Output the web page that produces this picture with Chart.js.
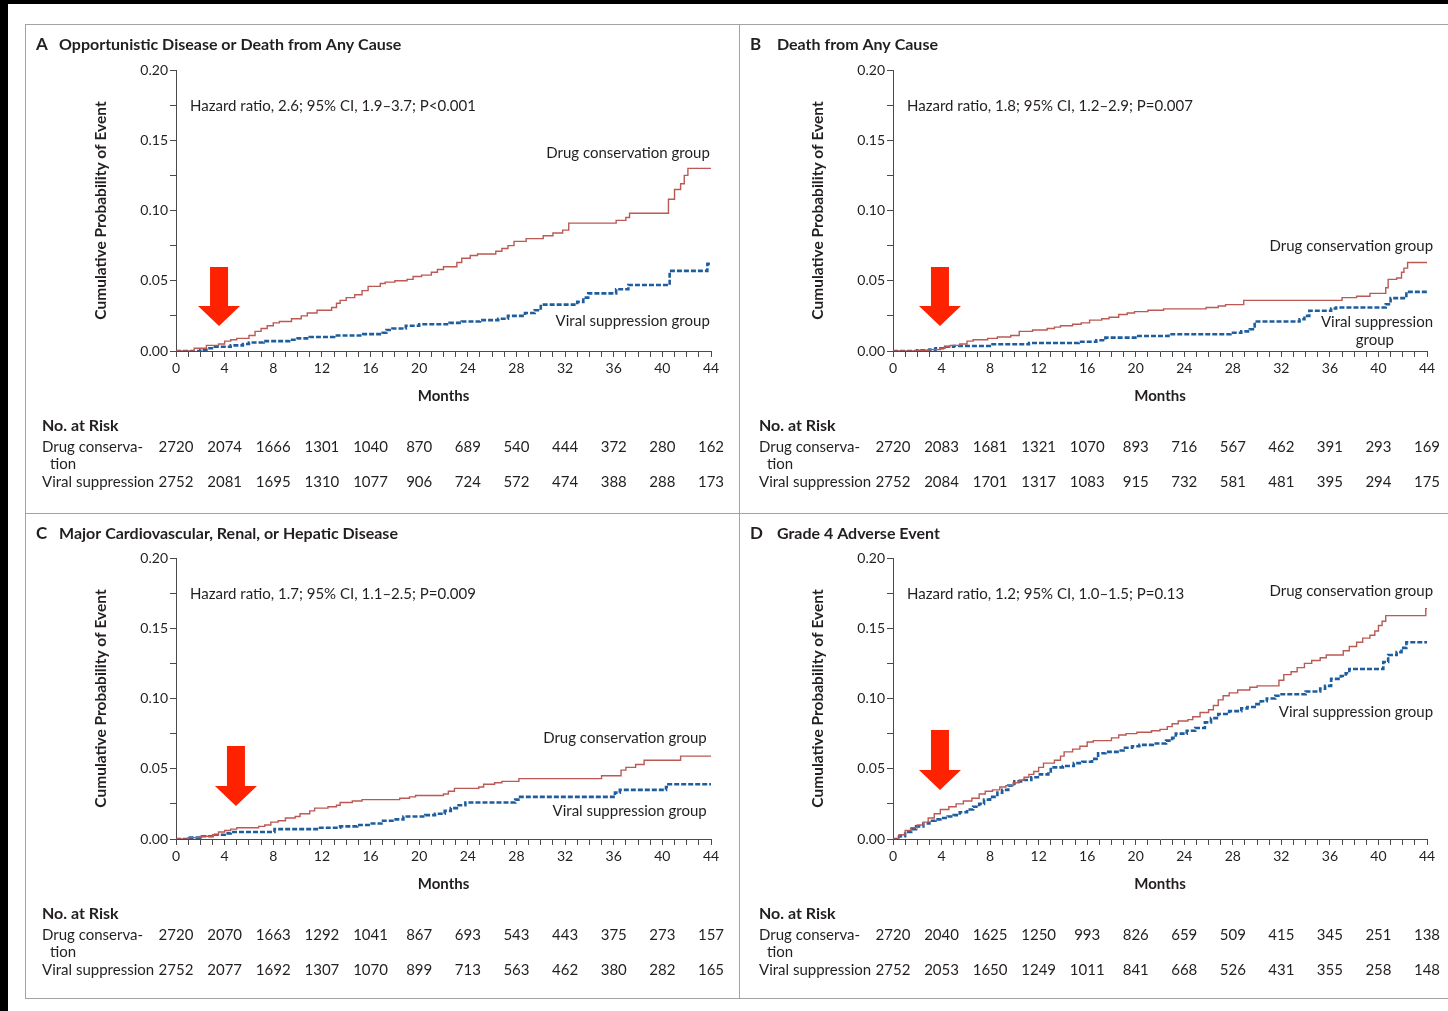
<!DOCTYPE html>
<html>
<head>
<meta charset="utf-8">
<script src="https://cdn.jsdelivr.net/npm/chart.js@4.4.1/dist/chart.umd.min.js"></script>
<style>
  body { margin: 0; background: #fff; width: 1448px; height: 1011px; overflow: hidden; position: relative; font-family: Lato, sans-serif; }
  .bar { position: absolute; background: #000; }
  .frame { position: absolute; border: 1px solid #a3a3a3; box-sizing: border-box; }
  canvas { position: absolute; }
</style>
</head>
<body>
<div class="bar" style="left:0;top:0;width:1448px;height:4px"></div>
<div class="bar" style="left:0;top:0;width:8px;height:1011px"></div>
<div class="frame" style="left:25px;top:24px;width:1440px;height:975px"></div>
<div class="frame" style="left:739px;top:24px;width:1px;height:975px;border-width:0 0 0 1px"></div>
<div class="frame" style="left:25px;top:513px;width:1440px;height:1px;border-width:1px 0 0 0"></div>

<canvas id="pA" style="left:25px;top:24px" width="714" height="489"></canvas>
<canvas id="pB" style="left:739px;top:24px" width="709" height="489"></canvas>
<canvas id="pC" style="left:25px;top:513px" width="714" height="485"></canvas>
<canvas id="pD" style="left:739px;top:513px" width="709" height="485"></canvas>

<script>
// [month, cumulative probability] steps
const aDrug = [[0,0],[1.5,0.002],[2.5,0.004],[3.5,0.005],[4,0.007],[4.5,0.008],[5,0.009],[6,0.011],[6.5,0.014],[7,0.016],[7.5,0.018],[8,0.020],[8.5,0.021],[9.5,0.023],[10.3,0.025],[10.8,0.027],[11.6,0.029],[12.8,0.031],[13.2,0.034],[13.5,0.036],[14,0.038],[14.7,0.040],[15.3,0.043],[15.8,0.046],[16.8,0.048],[17.2,0.049],[18,0.050],[19,0.051],[19.5,0.053],[20.2,0.054],[21,0.056],[21.5,0.058],[22,0.060],[23.1,0.063],[23.5,0.066],[24.2,0.068],[24.8,0.069],[26.3,0.071],[26.8,0.073],[27.3,0.075],[27.8,0.078],[28.8,0.080],[30.2,0.082],[31,0.084],[31.8,0.086],[32.3,0.091],[36.2,0.093],[37,0.095],[37.3,0.098],[40.5,0.108],[41,0.115],[41.5,0.119],[41.8,0.125],[42.1,0.130],[44,0.130]]
const aViral = [[0,0],[2,0.001],[2.5,0.002],[3.2,0.003],[4.5,0.004],[5.5,0.005],[6,0.006],[7.2,0.007],[9.3,0.008],[10,0.009],[11,0.010],[13,0.011],[15.4,0.012],[17,0.013],[17.3,0.015],[17.8,0.016],[18.9,0.018],[20,0.019],[22.5,0.020],[23.5,0.021],[25,0.022],[26.5,0.023],[27.3,0.025],[28.7,0.027],[29.5,0.029],[30,0.033],[33,0.035],[33.5,0.038],[33.9,0.041],[36.2,0.044],[37.2,0.047],[40.6,0.057],[43.7,0.062],[44,0.062]]

const bDrug = [[0,0],[2,0.0005],[3,0.001],[3.9,0.002],[4.3,0.003],[4.7,0.004],[5.5,0.005],[6.1,0.007],[6.6,0.008],[7.8,0.009],[8.6,0.010],[9.7,0.011],[10.4,0.014],[11.5,0.015],[12.7,0.016],[13.3,0.017],[13.8,0.018],[14.8,0.019],[15.5,0.020],[16.2,0.022],[17.2,0.023],[17.8,0.024],[18.6,0.026],[19.3,0.027],[19.9,0.028],[21,0.029],[22.3,0.030],[25.8,0.031],[26.8,0.032],[27.4,0.033],[28.9,0.036],[37,0.038],[38.2,0.039],[39.3,0.041],[40.6,0.045],[40.8,0.051],[41.5,0.052],[41.9,0.056],[42.1,0.059],[42.4,0.063],[44,0.063]]
const bViral = [[0,0],[2,0.0005],[3,0.001],[3.5,0.002],[4.3,0.003],[5,0.0036],[8.2,0.0048],[11.2,0.0057],[15.3,0.0066],[16.75,0.0076],[17.5,0.0095],[20.1,0.0107],[22.7,0.0119],[27.8,0.013],[28.7,0.014],[29.4,0.0155],[29.8,0.021],[33.5,0.0226],[33.9,0.025],[34.3,0.0286],[36.1,0.0302],[36.5,0.031],[40.6,0.0333],[41,0.0376],[42.3,0.0421],[44,0.0421]]

const cDrug = [[0,0],[1,0.001],[2,0.002],[3,0.003],[3.5,0.005],[4,0.006],[4.5,0.007],[5,0.008],[6.8,0.009],[7.3,0.010],[7.8,0.012],[8.4,0.013],[9,0.015],[9.8,0.016],[10.2,0.018],[11,0.020],[11.4,0.022],[12.5,0.023],[13.2,0.024],[13.5,0.026],[14.5,0.027],[15.3,0.028],[18.4,0.029],[19.2,0.030],[19.7,0.031],[22,0.032],[22.4,0.034],[22.9,0.036],[24.9,0.037],[25.3,0.039],[26.2,0.040],[26.8,0.041],[28.2,0.043],[35,0.045],[36.6,0.049],[37,0.051],[37.8,0.053],[38.5,0.056],[41.5,0.059],[44,0.059]]
const cViral = [[0,0],[1,0.001],[2,0.002],[3,0.003],[4,0.004],[4.5,0.005],[8.1,0.007],[11.7,0.008],[13.5,0.009],[14.9,0.010],[16.1,0.011],[16.9,0.013],[17.8,0.014],[18.7,0.016],[20.5,0.017],[21.3,0.018],[22.1,0.020],[22.6,0.022],[23.1,0.024],[23.8,0.026],[27.9,0.028],[28.3,0.030],[36.1,0.033],[36.5,0.035],[40.3,0.037],[40.5,0.039],[44,0.039]]

const dDrug = [[0,0],[0.5,0.003],[1,0.006],[1.5,0.008],[2,0.010],[2.5,0.012],[2.9,0.015],[3.4,0.018],[3.9,0.021],[4.6,0.023],[5.2,0.025],[5.8,0.027],[6.5,0.029],[7.1,0.032],[7.6,0.034],[8.2,0.035],[8.8,0.037],[9.3,0.038],[9.9,0.040],[10.4,0.042],[10.8,0.044],[11.2,0.046],[11.6,0.048],[12,0.051],[12.4,0.054],[13.3,0.056],[13.8,0.059],[14.1,0.062],[14.8,0.064],[15.4,0.066],[16,0.069],[16.5,0.070],[18,0.072],[18.6,0.074],[19.2,0.075],[20.1,0.076],[21.3,0.077],[22,0.078],[22.6,0.080],[23,0.082],[23.5,0.084],[24.3,0.085],[24.7,0.087],[25.3,0.090],[26,0.092],[26.4,0.095],[26.8,0.099],[27.2,0.102],[27.7,0.104],[28.4,0.106],[29.4,0.108],[30,0.109],[31.8,0.113],[32.2,0.117],[32.8,0.119],[33.3,0.122],[33.9,0.125],[34.5,0.127],[35.2,0.129],[35.7,0.131],[37.1,0.134],[37.6,0.137],[38.2,0.140],[38.7,0.143],[39.3,0.145],[39.7,0.148],[40,0.152],[40.3,0.155],[40.6,0.159],[43.9,0.164],[44,0.164]]
const dViral = [[0,0],[0.5,0.002],[1,0.005],[1.5,0.007],[1.9,0.009],[2.5,0.011],[3,0.013],[3.5,0.014],[3.9,0.015],[4.5,0.016],[5,0.017],[5.5,0.019],[6.1,0.021],[6.6,0.023],[7.1,0.025],[7.5,0.028],[8,0.030],[8.6,0.033],[9,0.035],[9.5,0.038],[10,0.041],[10.8,0.042],[11.4,0.044],[12.1,0.046],[12.8,0.048],[13,0.051],[14,0.052],[14.9,0.054],[15.6,0.055],[16.4,0.057],[16.9,0.061],[17.5,0.062],[18.5,0.063],[19,0.065],[19.7,0.066],[20.3,0.067],[21.4,0.068],[22.5,0.070],[23,0.072],[23.3,0.075],[24.2,0.077],[24.9,0.079],[25.7,0.083],[26.2,0.086],[26.8,0.089],[27.7,0.091],[28.7,0.093],[29.2,0.094],[29.8,0.096],[30.3,0.098],[30.8,0.100],[31.5,0.102],[31.9,0.103],[34,0.105],[35.2,0.107],[35.6,0.109],[36.1,0.114],[36.9,0.116],[37.3,0.118],[37.6,0.121],[40.4,0.126],[40.8,0.131],[41.5,0.133],[41.9,0.136],[42.3,0.140],[44,0.140]]

// number at risk, every 4 months
const riskMonths = [0, 4, 8, 12, 16, 20, 24, 28, 32, 36, 40, 44]
const aRiskDrug = [2720, 2074, 1666, 1301, 1040, 870, 689, 540, 444, 372, 280, 162]
const aRiskViral = [2752, 2081, 1695, 1310, 1077, 906, 724, 572, 474, 388, 288, 173]
const bRiskDrug = [2720, 2083, 1681, 1321, 1070, 893, 716, 567, 462, 391, 293, 169]
const bRiskViral = [2752, 2084, 1701, 1317, 1083, 915, 732, 581, 481, 395, 294, 175]
const cRiskDrug = [2720, 2070, 1663, 1292, 1041, 867, 693, 543, 443, 375, 273, 157]
const cRiskViral = [2752, 2077, 1692, 1307, 1070, 899, 713, 563, 462, 380, 282, 165]
const dRiskDrug = [2720, 2040, 1625, 1250, 993, 826, 659, 509, 415, 345, 251, 138]
const dRiskViral = [2752, 2053, 1650, 1249, 1011, 841, 668, 526, 431, 355, 258, 148]

const FONT = 'Lato, "Noto Sans", sans-serif'
const INK = '#231f20'
const AXIS = '#4a4a4a'
const RED = '#bb5a55'
const BLUE = '#1f5e9e'
const ARROW = '#ff2200'

const panels = [
	{
		id: 'pA', letter: 'A', title: 'Opportunistic Disease or Death from Any Cause',
		hazard: 'Hazard ratio, 2.6; 95% CI, 1.9–3.7; P<0.001',
		drug: aDrug, viral: aViral, riskDrug: aRiskDrug, riskViral: aRiskViral,
		pad: { left: 63, right: 28, top: 46, bottom: 108 }, letterX: 11, titleX: 34,
		labels: [
			{ text: 'Drug conservation group', x: 43.9, y: 0.141, align: 'right' },
			{ text: 'Viral suppression group', x: 43.9, y: 0.0214, align: 'right' },
		],
		arrow: { x: 3.54, tip: 0.0178, top: 0.0598 },
	},
	{
		id: 'pB', letter: 'B', title: 'Death from Any Cause',
		hazard: 'Hazard ratio, 1.8; 95% CI, 1.2–2.9; P=0.007',
		drug: bDrug, viral: bViral, riskDrug: bRiskDrug, riskViral: bRiskViral,
		pad: { left: 66, right: 21, top: 46, bottom: 108 }, letterX: 11, titleX: 38,
		labels: [
			{ text: 'Drug conservation group', x: 44.5, y: 0.0747, align: 'right' },
			{ text: 'Viral suppression', x: 44.5, y: 0.0206, align: 'right' },
			{ text: 'group', x: 39.7, y: 0.0078, align: 'center' },
		],
		arrow: { x: 3.87, tip: 0.0178, top: 0.0598 },
	},
	{
		id: 'pC', letter: 'C', title: 'Major Cardiovascular, Renal, or Hepatic Disease',
		hazard: 'Hazard ratio, 1.7; 95% CI, 1.1–2.5; P=0.009',
		drug: cDrug, viral: cViral, riskDrug: cRiskDrug, riskViral: cRiskViral,
		pad: { left: 63, right: 28, top: 45, bottom: 105 }, letterX: 11, titleX: 34,
		labels: [
			{ text: 'Drug conservation group', x: 43.65, y: 0.0719, align: 'right' },
			{ text: 'Viral suppression group', x: 43.65, y: 0.0199, align: 'right' },
		],
		arrow: { x: 4.93, tip: 0.0235, top: 0.0662 },
	},
	{
		id: 'pD', letter: 'D', title: 'Grade 4 Adverse Event',
		hazard: 'Hazard ratio, 1.2; 95% CI, 1.0–1.5; P=0.13',
		drug: dDrug, viral: dViral, riskDrug: dRiskDrug, riskViral: dRiskViral,
		pad: { left: 66, right: 21, top: 45, bottom: 105 }, letterX: 11, titleX: 38,
		labels: [
			{ text: 'Drug conservation group', x: 44.5, y: 0.1765, align: 'right' },
			{ text: 'Viral suppression group', x: 44.5, y: 0.0904, align: 'right' },
		],
		arrow: { x: 3.87, tip: 0.0349, top: 0.0776 },
	},
]

// titles, curve labels, number-at-risk table and the red arrow for one panel
function panelText(p) {
	return {
		id: 'panelText',
		afterDraw(chart) {
			const { ctx, chartArea: area } = chart
			const xs = chart.scales.x
			const ys = chart.scales.y
			ctx.save()
			ctx.fillStyle = INK
			ctx.textBaseline = 'middle'

			ctx.font = 'bold 17px ' + FONT
			ctx.textAlign = 'left'
			ctx.fillText(p.letter, p.letterX, 21)
			ctx.font = 'bold 16px ' + FONT
			ctx.fillText(p.title, p.titleX, 21)

			ctx.font = '15px ' + FONT
			ctx.fillText(p.hazard, area.left + 14, area.top + 36)

			p.labels.forEach(l => {
				ctx.textAlign = l.align
				ctx.fillText(l.text, xs.getPixelForValue(l.x), ys.getPixelForValue(l.y))
			})

			const rowX = area.left - 134
			ctx.textAlign = 'left'
			ctx.font = 'bold 16px ' + FONT
			ctx.fillText('No. at Risk', rowX, area.bottom + 75)
			ctx.font = '15px ' + FONT
			ctx.fillText('Drug conserva-', rowX, area.bottom + 96)
			ctx.fillText('tion', rowX + 8, area.bottom + 113)
			ctx.fillText('Viral suppression', rowX, area.bottom + 131)
			ctx.textAlign = 'center'
			riskMonths.forEach((m, i) => {
				const x = xs.getPixelForValue(m)
				ctx.fillText(String(p.riskDrug[i]), x, area.bottom + 96)
				ctx.fillText(String(p.riskViral[i]), x, area.bottom + 131)
			})

			const a = p.arrow
			const ax = xs.getPixelForValue(a.x)
			const tipY = ys.getPixelForValue(a.tip)
			const topY = ys.getPixelForValue(a.top)
			const headLen = 20
			ctx.fillStyle = ARROW
			ctx.beginPath()
			ctx.moveTo(ax - 9, topY)
			ctx.lineTo(ax + 9, topY)
			ctx.lineTo(ax + 9, tipY - headLen)
			ctx.lineTo(ax + 21, tipY - headLen)
			ctx.lineTo(ax, tipY)
			ctx.lineTo(ax - 21, tipY - headLen)
			ctx.lineTo(ax - 9, tipY - headLen)
			ctx.closePath()
			ctx.fill()
			ctx.restore()
		},
	}
}

function makeChart(p) {
	const toPoints = arr => arr.map(d => ({ x: d[0], y: d[1] }))
	return new Chart(document.getElementById(p.id), {
		type: 'line',
		data: {
			datasets: [
				{
					label: 'Drug conservation group',
					data: toPoints(p.drug),
					borderColor: RED,
					borderWidth: 1.4,
					stepped: true,
					pointRadius: 0,
					fill: false,
				},
				{
					label: 'Viral suppression group',
					data: toPoints(p.viral),
					borderColor: BLUE,
					borderWidth: 2.6,
					borderDash: [5, 2],
					stepped: true,
					pointRadius: 0,
					fill: false,
				},
			],
		},
		options: {
			responsive: false,
			animation: false,
			layout: { padding: p.pad },
			plugins: {
				legend: { display: false },
				tooltip: { enabled: false },
			},
			scales: {
				x: {
					type: 'linear',
					min: 0,
					max: 44,
					afterFit: s => { s.height = 54 },
					grid: { drawOnChartArea: false, drawTicks: true, tickLength: 6, color: AXIS },
					border: { display: true, color: AXIS, width: 1 },
					ticks: {
						stepSize: 1,
						autoSkip: false,
						maxRotation: 0,
						padding: 3,
						color: INK,
						font: { family: FONT, size: 14 },
						callback: v => (v % 4 === 0 ? String(v) : ''),
					},
					title: {
						display: true,
						text: 'Months',
						color: INK,
						font: { family: FONT, size: 15, weight: 'bold' },
						padding: { top: 0, bottom: 0 },
					},
				},
				y: {
					min: 0,
					max: 0.2,
					afterFit: s => { s.width = 88 },
					grid: { drawOnChartArea: false, drawTicks: true, tickLength: 6, color: AXIS },
					border: { display: true, color: AXIS, width: 1 },
					ticks: {
						stepSize: 0.025,
						autoSkip: false,
						padding: 2,
						color: INK,
						font: { family: FONT, size: 14 },
						callback: v => (Math.round(v * 1000) % 50 === 0 ? v.toFixed(2) : ''),
					},
					title: {
						display: true,
						text: 'Cumulative Probability of Event',
						color: INK,
						font: { family: FONT, size: 15.5, weight: 'bold' },
						padding: { top: 4, bottom: 0 },
					},
				},
			},
		},
		plugins: [panelText(p)],
	})
}

panels.forEach(makeChart)
</script>
</body>
</html>
